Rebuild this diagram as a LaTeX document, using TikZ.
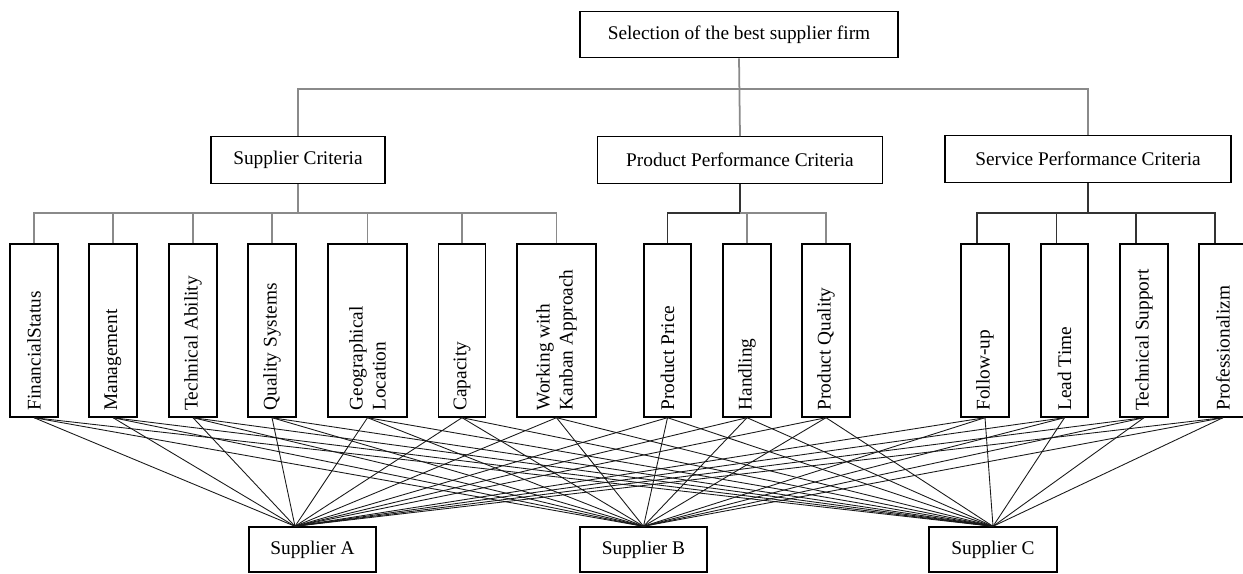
\documentclass[tikz,border=0pt]{standalone}
\usepackage{fontspec}
\setmainfont{Liberation Serif}
\usetikzlibrary{positioning}
\definecolor{linegray}{HTML}{8A8A8A}
\definecolor{linedark}{HTML}{333333}
\newcommand{\vlabel}[1]{\rotatebox{90}{\parbox{3.2cm}{\raggedright #1}}}

\begin{document}
\begin{tikzpicture}[
    x=0.02cm, y=-0.02cm,
    every node/.style={font=\fontsize{11}{13}\selectfont},
    box/.style={draw, line width=0.8pt, inner sep=0pt, minimum height=0.93cm},
    critbox/.style={draw, line width=0.8pt, inner sep=0pt, minimum width=0.96cm, minimum height=3.46cm},
    tree/.style={linegray, line width=1pt},
    treedark/.style={linedark, line width=0.9pt},
    link/.style={black!90, line width=0.5pt},
]
\useasboundingbox (0,0) rectangle (1243,574);

% Goal
\node[box, minimum width=6.36cm] (goal) at (739,34.5) {Selection of the best supplier firm};

% Main criteria
\node[box, minimum width=3.48cm] (sc) at (298,160) {Supplier Criteria};
\node[box, minimum width=5.7cm] (ppc) at (740,160) {Product Performance Criteria};
\node[box, minimum width=5.72cm] (spc) at (1088,159) {Service Performance Criteria};

% Supplier sub-criteria
\node[critbox] (fs) at (34,330.5) {\vlabel{FinancialStatus}};
\node[critbox] (mg) at (113,330.5) {\vlabel{Management}};
\node[critbox] (ta) at (193,330.5) {\vlabel{Technical Ability}};
\node[critbox] (qs) at (272,330.5) {\vlabel{Quality Systems}};
\node[critbox, minimum width=1.58cm] (gl) at (367.5,330.5) {\vlabel{Geographical\\Location}};
\node[critbox, minimum width=0.94cm] (cp) at (462,330.5) {\vlabel{Capacity}};
\node[critbox, minimum width=1.58cm] (wk) at (556.5,330.5) {\vlabel{Working with\\Kanban Approach}};

% Product sub-criteria
\node[critbox, minimum width=0.94cm] (pp) at (667.5,330.5) {\vlabel{Product Price}};
\node[critbox] (hd) at (747,330.5) {\vlabel{Handling}};
\node[critbox] (pq) at (826,330.5) {\vlabel{Product Quality}};

% Service sub-criteria
\node[critbox] (fu) at (985,330.5) {\vlabel{Follow-up}};
\node[critbox, minimum width=0.94cm] (lt) at (1064.5,330.5) {\vlabel{Lead Time}};
\node[critbox] (ts) at (1144,330.5) {\vlabel{Technical Support}};
\node[critbox] (pf) at (1223,330.5) {\vlabel{Professionalizm}};

% Alternatives
\node[box, minimum width=2.54cm, minimum height=0.9cm] (supA) at (312.5,549.5) {Supplier A};
\node[box, minimum width=2.54cm, minimum height=0.9cm] (supB) at (643.5,549.5) {Supplier B};
\node[box, minimum width=2.56cm, minimum height=0.9cm] (supC) at (993,549.5) {Supplier C};

% Tree: goal to main criteria
\coordinate (topbus) at (739,89);
\draw[tree] (goal.south) -- (ppc.north);
\draw[tree] (sc.north) |- (topbus);
\draw[tree] (spc.north) |- (topbus);

% Tree: main criteria to sub-criteria
\coordinate (scbus) at (298,213);
\draw[tree] (sc.south) -- (scbus);
\foreach \c in {fs,mg,ta,qs,gl,cp,wk}
    \draw[tree] (\c.north) |- (scbus);

\coordinate (ppcbus) at (740,213);
\draw[treedark] (ppc.south) -- (ppcbus);
\draw[treedark] (pp.north) |- (ppcbus);
\foreach \c in {hd,pq}
    \draw[tree] (\c.north) |- (ppcbus);

\coordinate (spcbus) at (1088,213);
\draw[treedark] (spc.south) -- (spcbus);
\foreach \c in {fu,lt,ts,pf}
    \draw[treedark] ([xshift=-0.16cm]\c.north) |- (spcbus);

% Links: every sub-criterion to every supplier
\coordinate (inA) at ([xshift=-0.35cm]supA.north);
\coordinate (inB) at (supB.north);
\coordinate (inC) at (supC.north);
\foreach \c in {fs,mg,ta,qs,gl,cp,wk,pp,hd,pq,fu,lt,ts,pf}
    \foreach \s in {inA,inB,inC}
        \draw[link] (\c.south) -- (\s);

\end{tikzpicture}
\end{document}
